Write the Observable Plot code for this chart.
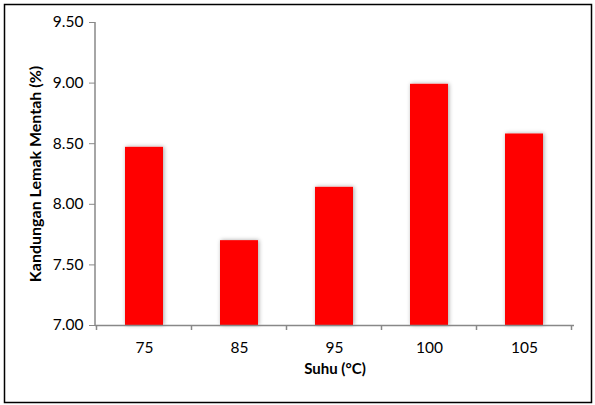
<!DOCTYPE html>
<html><head><meta charset="utf-8">
<script src="https://cdn.jsdelivr.net/npm/d3@7"></script>
<script src="https://cdn.jsdelivr.net/npm/@observablehq/plot@0.6"></script>
<style>
html,body{margin:0;padding:0;background:#fff;}
#chart{position:relative;width:595px;height:405px;}
</style>
</head><body><div id="chart"></div>
<script>
const temperatures = ["75", "85", "95", "100", "105"];
const fatContent = [8.47, 7.70, 8.14, 8.99, 8.58];
const yTicks = [7.0, 7.5, 8.0, 8.5, 9.0, 9.5];
const xTitle = "Suhu (°C)";
const yTitle = "Kandungan Lemak Mentah (%)";

const data = temperatures.map((t, i) => ({t, v: fatContent[i]}));
const font = "Lato, 'Open Sans', sans-serif";

const plot = Plot.plot({
  width: 595, height: 405,
  marginLeft: 95, marginRight: 21, marginTop: 22, marginBottom: 80,
  style: {fontFamily: font, background: "#fff", overflow: "visible"},
  x: {domain: temperatures, paddingInner: 0.6, paddingOuter: 0.3, align: 0.5},
  y: {domain: [7, 9.5]},
  marks: [
    Plot.barY(data, {x: "t", y1: 7, y2: "v", fill: "#ff0000", className: "bars"}),
    Plot.axisY({ticks: yTicks, tickFormat: ".2f", tickSize: 6, tickPadding: 6, stroke: "#888", fontSize: 15.5, color: "#000", label: null}),
    Plot.axisX({tickSize: 0, tickPadding: 16, fontSize: 15.5, color: "#000", label: null}),
    Plot.ruleY([7], {stroke: "#888", strokeWidth: 1.5}),
    Plot.text([yTitle], {frameAnchor: "left", textAnchor: "middle", dx: -60, rotate: -90, fontWeight: "bold", fontSize: 16, fill: "#000"}),
    Plot.text([xTitle], {frameAnchor: "bottom", dy: 48, fontWeight: "bold", fontSize: 15, fill: "#000"}),
    // boundary tick marks & y axis line drawn from the scales
    (index, scales, values, dims) => {
      const g = d3.create("svg:g");
      const x = scales.x, y = scales.y;
      const step = x.step();
      const y0 = y(7);
      const bounds = temperatures.map(t => x(t) - (step - x.bandwidth()) / 2);
      bounds.push(x(temperatures[temperatures.length - 1]) + x.bandwidth() + (step - x.bandwidth()) / 2);
      for (const b of bounds) {
        g.append("line").attr("x1", b).attr("x2", b).attr("y1", y0).attr("y2", y0 + 5)
          .attr("stroke", "#888").attr("stroke-width", 1.5);
      }
      g.append("line").attr("x1", dims.marginLeft).attr("x2", dims.marginLeft)
        .attr("y1", y(9.5)).attr("y2", y0).attr("stroke", "#888").attr("stroke-width", 1.5);
      return g.node();
    }
  ]
});

// drop shadow on bars & outer border
const svg = d3.select(plot);
const defs = svg.insert("defs", ":first-child");
const f = defs.append("filter").attr("id", "shadow").attr("x", "-30%").attr("y", "-10%").attr("width", "160%").attr("height", "120%");
f.append("feDropShadow").attr("dx", 1).attr("dy", 0).attr("stdDeviation", 2.2).attr("flood-color", "#000").attr("flood-opacity", 0.35);
svg.selectAll("g.bars, g[aria-label='bar']").attr("filter", "url(#shadow)");
svg.append("rect").attr("x", 4.5).attr("y", 4.5).attr("width", 587).attr("height", 398)
  .attr("fill", "none").attr("stroke", "#000").attr("stroke-width", 1.5);

document.getElementById("chart").appendChild(plot);
</script>
</body></html>
